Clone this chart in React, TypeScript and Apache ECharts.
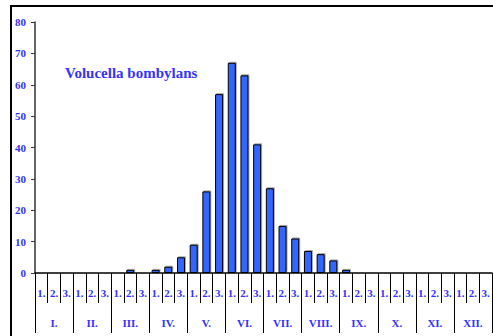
import React, { useEffect, useRef } from "react";
import * as echarts from "echarts";

const days = [
  "1.", "2.", "3.", "1.", "2.", "3.", "1.", "2.", "3.", "1.", "2.", "3.",
  "1.", "2.", "3.", "1.", "2.", "3.", "1.", "2.", "3.", "1.", "2.", "3.",
  "1.", "2.", "3.", "1.", "2.", "3.", "1.", "2.", "3.", "1.", "2.", "3.",
];
const months = ["I.", "II.", "III.", "IV.", "V.", "VI.", "VII.", "VIII.", "IX.", "X.", "XI.", "XII."];
const counts = [
  0, 0, 0,
  0, 0, 0,
  0, 1, 0,
  1, 2, 5,
  9, 26, 57,
  67, 63, 41,
  27, 15, 11,
  7, 6, 4,
  1, 0, 0,
  0, 0, 0,
  0, 0, 0,
  0, 0, 0,
];
const yTicks = [0, 80, 10];
const title = "Volucella bombylans";

const BLUE = "#3333ff";
const FONT = "Liberation Serif";

export default function App() {
  const ref = useRef<HTMLDivElement>(null);
  useEffect(() => {
    if (!ref.current) return;
    const chart = echarts.init(ref.current, null, { renderer: "svg" });
    chart.setOption({
      animation: false,
      backgroundColor: "#fff",
      grid: { left: 35, right: 1, top: 22, bottom: 63, containLabel: false },
      graphic: [
        { type: "line", shape: { x1: 10, y1: 6, x2: 493, y2: 6 }, style: { stroke: "#000", lineWidth: 2 } },
        { type: "line", shape: { x1: 11, y1: 6, x2: 11, y2: 336 }, style: { stroke: "#000", lineWidth: 2 } },
        {
          type: "text",
          left: 65,
          top: 65,
          style: { text: title, fill: BLUE, font: `bold 15px "${FONT}"` },
        },
      ],
      xAxis: [
        {
          type: "category",
          data: days,
          position: "bottom",
          axisLine: { show: true, lineStyle: { color: "#000", width: 1.5 } },
          axisTick: { show: true, length: 30, interval: 0, lineStyle: { color: "#000", width: 1 } },
          axisLabel: {
            interval: 0,
            margin: 14,
            color: BLUE,
            fontFamily: FONT,
            fontWeight: "bold",
            fontSize: 11,
          },
        },
        {
          type: "category",
          data: months,
          position: "bottom",
          axisLine: { show: false },
          axisTick: { show: true, length: 60, interval: 0, lineStyle: { color: "#000", width: 1 } },
          axisLabel: {
            interval: 0,
            margin: 44,
            color: BLUE,
            fontFamily: FONT,
            fontWeight: "bold",
            fontSize: 11,
          },
        },
      ],
      yAxis: {
        type: "value",
        min: yTicks[0],
        max: yTicks[1],
        interval: yTicks[2],
        axisLine: { show: true, lineStyle: { color: "#333", width: 1.5 } },
        axisTick: { show: true, length: 4, lineStyle: { color: "#333" } },
        splitLine: { show: false },
        axisLabel: {
          margin: 9,
          color: BLUE,
          fontFamily: FONT,
          fontWeight: "bold",
          fontSize: 11,
        },
      },
      series: [
        {
          type: "bar",
          xAxisIndex: 0,
          data: counts,
          barWidth: 8,
          itemStyle: {
            color: "#3366ff",
            borderColor: "#000",
            borderWidth: 1,
            shadowColor: "rgba(0,0,0,0.35)",
            shadowOffsetX: 1,
            shadowOffsetY: -1,
            shadowBlur: 1,
          },
        },
      ],
    });
    return () => chart.dispose();
  }, []);
  return (
    <div
      ref={ref}
      style={{ position: "fixed", left: 0, top: 0, width: 493, height: 336 }}
    />
  );
}
